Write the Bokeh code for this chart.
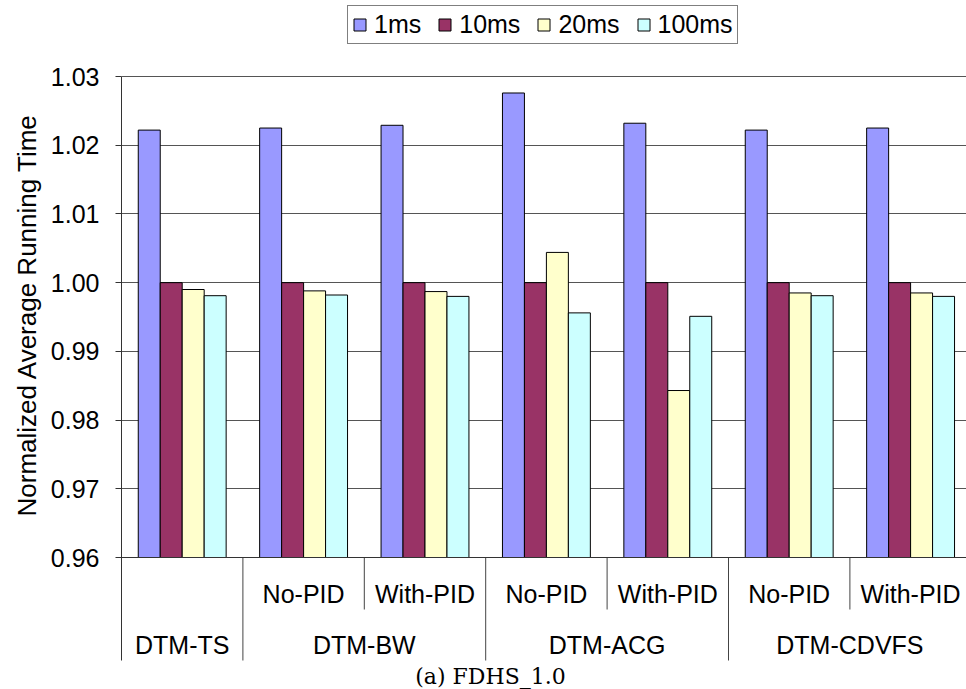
import numpy as np
from bokeh.plotting import figure
from bokeh.models import (ColumnDataSource, Range1d, FixedTicker, NumeralTickFormatter,
                          Legend, LegendItem, Span, Title)
from bokeh.core.properties import value
from bokeh.transform import dodge
from bokeh.embed import file_html
from bokeh.resources import INLINE

# ---- data ----
schemes = ["DTM-TS", "DTM-BW", "DTM-ACG", "DTM-CDVFS"]
variants = ["", "No-PID", "With-PID", "No-PID", "With-PID", "No-PID", "With-PID"]
scheme_of_group = [0, 1, 1, 2, 2, 3, 3]
series_names = ["1ms", "10ms", "20ms", "100ms"]
ms1 = [1.0222, 1.0225, 1.0229, 1.0276, 1.0232, 1.0222, 1.0225]
ms10 = [1.0000, 1.0000, 1.0000, 1.0000, 1.0000, 1.0000, 1.0000]
ms20 = [0.9990, 0.9988, 0.9987, 1.0044, 0.9843, 0.9985, 0.9985]
ms100 = [0.9981, 0.9982, 0.9980, 0.9956, 0.9951, 0.9981, 0.9980]
y_ticks = [0.96, 0.97, 0.98, 0.99, 1.00, 1.01, 1.02, 1.03]
y_title = "Normalized Average Running Time"
caption = "(a) FDHS_1.0"

colors = ["#9999FF", "#993366", "#FFFFCC", "#CCFFFF"]
FONT = "Liberation Sans"

# ---- layout helpers (pixels -> value units of the y scale) ----
W, H = 966, 689
LEFT = 121
PX_TOP, PX_BASE = 76, 557          # pixel rows of 1.03 and 0.96
Y0, Y1 = y_ticks[0], y_ticks[-1]
PPU = (PX_BASE - PX_TOP) / (Y1 - Y0)   # pixels per value unit


def yv(py):
    return Y0 - (py - PX_BASE) / PPU


n = len(ms1)
group_w = 121.4
src = ColumnDataSource(dict(x=np.arange(n) + 0.5, s0=ms1, s1=ms10, s2=ms20, s3=ms100))

p = figure(width=W, height=H, output_backend="svg", toolbar_location=None,
           x_axis_location=None,
           x_range=Range1d(0, (W - LEFT) / group_w),
           y_range=Range1d(yv(H), yv(0)),
           min_border_left=LEFT, min_border_right=0, min_border_top=0,
           min_border_bottom=0)
p.outline_line_color = None
p.background_fill_color = "white"
p.border_fill_color = "white"

# grid
p.ygrid.ticker = FixedTicker(ticks=y_ticks)
p.ygrid.grid_line_color = "#555555"
p.ygrid.grid_line_width = 1
p.xgrid.grid_line_color = None

bw = 0.181
offsets = [-1.5 * bw, -0.5 * bw, 0.5 * bw, 1.5 * bw]
renderers = []
for i, col in enumerate(["s0", "s1", "s2", "s3"]):
    r = p.vbar(x=dodge("x", offsets[i], range=p.x_range), top=col, bottom=Y0,
               width=bw, source=src, fill_color=colors[i], line_color="black",
               line_width=1)
    renderers.append(r)

# baseline (category axis line)
p.add_layout(Span(location=Y0, dimension="width", line_color="#333333", line_width=1))

# category separators
long_b, short_b = [], []
for g in range(1, n):
    (long_b if scheme_of_group[g] != scheme_of_group[g - 1] else short_b).append(g)
p.segment(x0=long_b, x1=long_b, y0=[Y0] * len(long_b), y1=[yv(660)] * len(long_b),
          line_color="#444444", line_width=1)
p.segment(x0=short_b, x1=short_b, y0=[Y0] * len(short_b), y1=[yv(609)] * len(short_b),
          line_color="#444444", line_width=1)

# category labels
sub_x = [g + 0.5 for g in range(n) if variants[g]]
sub_t = [v for v in variants if v]
p.text(x=sub_x, y=[yv(593.5)] * len(sub_x), text=sub_t, text_align="center",
       text_baseline="middle", text_font=value(FONT), text_font_size="25px",
       text_color="black")
main_x = []
for si in range(len(schemes)):
    gs = [g for g in range(n) if scheme_of_group[g] == si]
    main_x.append((min(gs) + max(gs) + 1) / 2.0)
p.text(x=main_x, y=[yv(644)] * len(main_x), text=schemes, text_align="center",
       text_baseline="middle", text_font=value(FONT), text_font_size="25px",
       text_color="black")
p.text(x=[(490 - LEFT) / group_w], y=[yv(676)], text=[caption], text_align="center",
       text_baseline="middle", text_font=value("DejaVu Serif"),
       text_font_size="22px", text_color="black")

# y axis
p.yaxis.ticker = FixedTicker(ticks=y_ticks)
p.yaxis.bounds = (yv(660), Y1)
p.yaxis.formatter = NumeralTickFormatter(format="0.00")
p.yaxis.major_label_text_font = FONT
p.yaxis.major_label_text_font_size = "25px"
p.yaxis.major_label_text_color = "black"
p.yaxis.major_label_standoff = 16
p.yaxis.major_tick_out = 6
p.yaxis.major_tick_in = 0
p.yaxis.minor_tick_line_color = None
p.yaxis.axis_line_color = "#333333"
p.yaxis.major_tick_line_color = "#333333"

p.add_layout(Title(text=y_title, align="left", offset=H - 516, standoff=12,
                   text_font=FONT, text_font_size="26px", text_font_style="normal",
                   text_color="black"), "left")

legend = Legend(items=[LegendItem(label=series_names[i], renderers=[renderers[i]])
                       for i in range(4)],
                orientation="horizontal", location=(347 - LEFT, H - 44),
                label_text_font=FONT, label_text_font_size="25px",
                label_text_color="black",
                glyph_width=15, glyph_height=15, label_standoff=7, spacing=16,
                padding=4, margin=0, border_line_color="black",
                border_line_width=1, background_fill_color="white",
                background_fill_alpha=1.0)
p.add_layout(legend, "center")

open("out.html", "w").write(file_html(p, INLINE))
